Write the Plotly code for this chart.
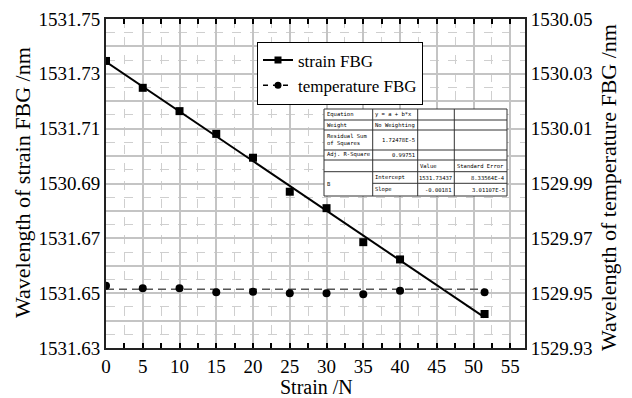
import numpy as np
import plotly.graph_objects as go

# ---------------- data ----------------
strain_force = [0, 5, 10, 15, 20, 25, 30, 35, 40, 51.5]
strain_wl = [1531.7347, 1531.7249, 1531.7164, 1531.7081, 1531.6994,
             1531.6870, 1531.6810, 1531.6686, 1531.6623, 1531.6424]
temp_wl = [1529.9527, 1529.9518, 1529.9518, 1529.9503, 1529.9505,
           1529.9500, 1529.9500, 1529.9496, 1529.9509, 1529.9503]
temp_level = 1529.9514          # horizontal reference line of temperature FBG

fit_intercept = 1531.73437
fit_slope = -0.00181

x_ticks = [0, 5, 10, 15, 20, 25, 30, 35, 40, 45, 50, 55]
y_left_ticks = [1531.63, 1531.64, 1531.65, 1531.66, 1531.67, 1531.68, 1531.69,
                1531.70, 1531.71, 1531.72, 1531.73, 1531.74, 1531.75]
y_left_labels = ["1531.63", "", "1531.65", "", "1531.67", "", "1530.69",
                 "", "1531.71", "", "1531.73", "", "1531.75"]
y_right_ticks = [1529.93, 1529.95, 1529.97, 1529.99, 1530.01, 1530.03, 1530.05]
y_right_labels = ["1529.93", "1529.95", "1529.97", "1529.99", "1530.01", "1530.03", "1530.05"]

table_rows = [
    ["Equation", "y = a + b*x", "", ""],
    ["Weight", "No Weighting", "", ""],
    ["Residual Sum<br>of Squares", "1.72478E-5", "", ""],
    ["Adj. R-Square", "0.99751", "", ""],
    ["", "", "Value", "Standard Error"],
    ["B", "Intercept", "1531.73437", "8.33564E-4"],
    ["", "Slope", "-0.00181", "3.01107E-5"],
]

# ---------------- figure ----------------
W, H = 632, 398
L, R, T, B = 106, 525, 19, 348
SERIF = "'Liberation Serif', 'Times New Roman', serif"

fit_x = np.array([strain_force[0], strain_force[-1]])
fit_y = fit_intercept + fit_slope * fit_x

fig = go.Figure()
fig.add_trace(go.Scatter(x=fit_x, y=fit_y, mode="lines",
                         line=dict(color="black", width=2), showlegend=False))
fig.add_trace(go.Scatter(x=strain_force, y=strain_wl, mode="markers",
                         marker=dict(symbol="square", size=8, color="black"),
                         showlegend=False))
fig.add_trace(go.Scatter(x=[strain_force[0], strain_force[-1]],
                         y=[temp_level, temp_level], yaxis="y2", mode="lines",
                         line=dict(color="#555555", width=1.5, dash="8px,5px"),
                         showlegend=False))
fig.add_trace(go.Scatter(x=strain_force, y=temp_wl, yaxis="y2", mode="markers",
                         marker=dict(symbol="circle", size=8, color="black"),
                         showlegend=False))
# legend entries
fig.add_trace(go.Scatter(x=[None], y=[None], mode="lines+markers", name="strain FBG",
                         line=dict(color="black", width=2),
                         marker=dict(symbol="square", size=7, color="black")))
fig.add_trace(go.Scatter(x=[None], y=[None], mode="lines+markers", name="temperature FBG",
                         line=dict(color="black", width=1.5, dash="5px,5px"),
                         marker=dict(symbol="circle", size=7, color="black")))

grid_solid = "#c4c4c4"
grid_dash = "#cfcfcf"
tickfont = dict(family=SERIF, size=19, color="black")

fig.update_layout(
    width=W, height=H,
    margin=dict(l=L, r=W - R, t=T, b=H - B, autoexpand=False),
    paper_bgcolor="white", plot_bgcolor="white",
    font=dict(family=SERIF, color="black"),
    xaxis=dict(
        range=[0, 57], tickvals=x_ticks, ticktext=[str(v) for v in x_ticks],
        showgrid=True, gridcolor=grid_solid, gridwidth=1.5,
        minor=dict(dtick=2.5, tick0=0, showgrid=True, gridcolor=grid_dash,
                   griddash="dash", gridwidth=1, ticks="inside", ticklen=3,
                   tickcolor="black"),
        ticks="inside", ticklen=5, tickwidth=1.5, tickcolor="black",
        showline=True, linecolor="#222222", linewidth=2, mirror="allticks",
        tickfont=tickfont, zeroline=False, automargin=False,
    ),
    yaxis=dict(
        range=[1531.63, 1531.75], tickvals=y_left_ticks, ticktext=y_left_labels,
        showgrid=True, gridcolor=grid_solid, gridwidth=1.5,
        minor=dict(tickvals=list(np.array(y_left_ticks[:-1]) + 0.005), showgrid=True,
                   gridcolor=grid_dash, griddash="dash", gridwidth=1),
        ticks="", showline=True, linecolor="#222222", linewidth=2,
        tickfont=tickfont, zeroline=False, automargin=False,
    ),
    yaxis2=dict(
        range=[1529.93, 1530.05], tickvals=y_right_ticks, ticktext=y_right_labels,
        overlaying="y", side="right", showgrid=False, ticks="",
        showline=True, linecolor="#222222", linewidth=2,
        tickfont=tickfont, zeroline=False, automargin=False,
    ),
    legend=dict(
        x=(257 - L) / (R - L), y=(B - 41.5) / (B - T), xanchor="left", yanchor="top",
        bgcolor="white", bordercolor="black", borderwidth=1,
        font=dict(family=SERIF, size=17, color="black"),
        itemwidth=30, tracegroupgap=0,
    ),
    showlegend=True,
)


def px(xp):
    return (xp - L) / (R - L)


def py(yp):
    return (B - yp) / (B - T)


# axis titles as annotations (exact placement)
fig.add_annotation(x=px(316), y=py(387), xref="paper", yref="paper", text="Strain /N",
                   showarrow=False, font=dict(family=SERIF, size=20),
                   xanchor="center", yanchor="middle")
fig.add_annotation(x=px(22), y=py(183), xref="paper", yref="paper",
                   text="Wavelength of strain FBG /nm", textangle=-90,
                   showarrow=False, font=dict(family=SERIF, size=22),
                   xanchor="center", yanchor="middle")
fig.add_annotation(x=px(609), y=py(188), xref="paper", yref="paper",
                   text="Wavelength of temperature FBG /nm", textangle=-90,
                   showarrow=False, font=dict(family=SERIF, size=22),
                   xanchor="center", yanchor="middle")

# ---------------- statistics table (inset) ----------------
col_x = [324, 372.7, 417.7, 454.3, 507]
row_y = [109, 120, 130, 150, 160, 171.7, 183.3, 196]
line_style = dict(color="#333333", width=1)

fig.add_shape(type="rect", xref="paper", yref="paper",
              x0=px(col_x[0]), x1=px(col_x[-1]), y0=py(row_y[-1]), y1=py(row_y[0]),
              fillcolor="white", line=line_style, layer="above")
for cx in col_x[1:-1]:
    fig.add_shape(type="line", xref="paper", yref="paper",
                  x0=px(cx), x1=px(cx), y0=py(row_y[-1]), y1=py(row_y[0]),
                  line=line_style, layer="above")
for i, ry in enumerate(row_y[1:-1], start=1):
    x_start = col_x[1] if i == 6 else col_x[0]
    fig.add_shape(type="line", xref="paper", yref="paper",
                  x0=px(x_start), x1=px(col_x[-1]), y0=py(ry), y1=py(ry),
                  line=line_style, layer="above")

tfont = dict(family="DejaVu Sans Mono", size=5.5, color="black")
right_aligned = {(2, 1), (3, 1), (5, 2), (5, 3), (6, 2), (6, 3)}
for r, row in enumerate(table_rows):
    for c, txt in enumerate(row):
        if not txt:
            continue
        if r == 5 and c == 0:
            yc = (row_y[5] + row_y[7]) / 2
        else:
            yc = (row_y[r] + row_y[r + 1]) / 2
        if (r, c) in right_aligned:
            xa, xanchor = col_x[c + 1] - 1.5, "right"
        else:
            xa, xanchor = col_x[c] + 1.5, "left"
        fig.add_annotation(x=px(xa), y=py(yc), xref="paper", yref="paper",
                           text=txt, showarrow=False, xanchor=xanchor, yanchor="middle",
                           align="left", font=tfont, borderpad=0)

fig.write_html("out.html", config={"displayModeBar": False},
               post_script="document.body.style.margin='0px';")
